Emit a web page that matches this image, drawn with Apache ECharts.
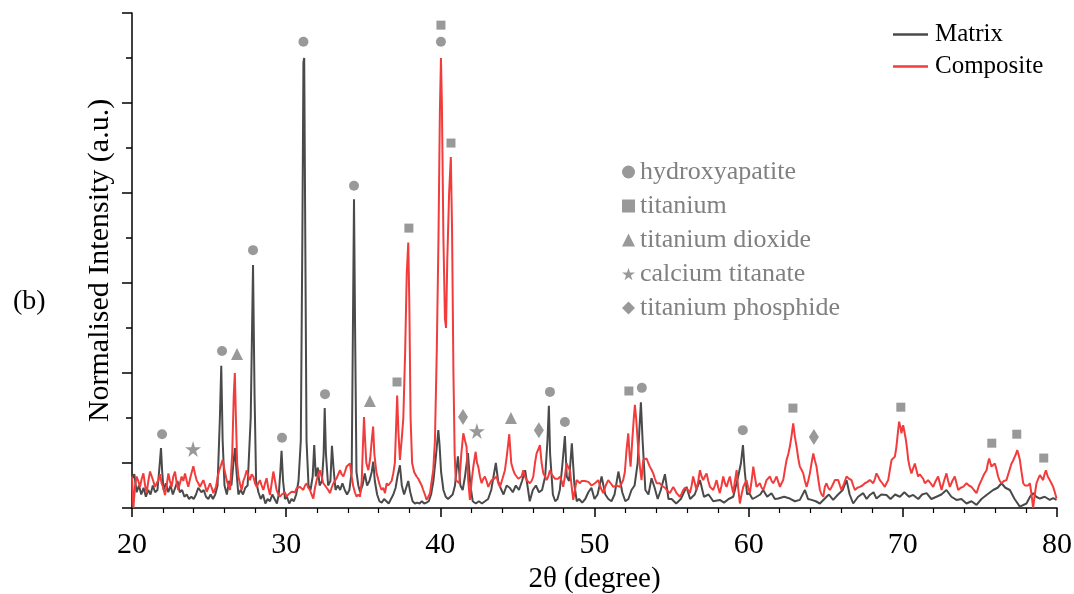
<!DOCTYPE html>
<html>
<head>
<meta charset="utf-8">
<script src="https://cdn.jsdelivr.net/npm/echarts@6/dist/echarts.min.js"></script>
<style>
  html, body { margin: 0; padding: 0; background: #fff; }
  #chart { width: 1074px; height: 594px; }
</style>
</head>
<body>
<div id="chart"></div>
<script>
// 2theta (degree) / normalised intensity
var matrix = [
  [20.0,0.065],[20.15,0.075],[20.3,0.035],[20.45,0.05],[20.6,0.03],[20.75,0.045],[20.9,0.025],[21.05,0.04],[21.2,0.03],[21.35,0.05],[21.5,0.035],[21.65,0.04],[21.78,0.09],[21.88,0.133],[21.96,0.08],[22.05,0.04],[22.2,0.055],[22.35,0.035],[22.5,0.05],[22.65,0.03],[22.8,0.045],[22.95,0.06],[23.1,0.035],[23.25,0.04],[23.4,0.025],[23.55,0.03],[23.7,0.02],[23.85,0.025],[24.0,0.02],[24.15,0.03],[24.3,0.045],[24.5,0.035],[24.65,0.04],[24.8,0.025],[24.95,0.02],[25.1,0.03],[25.25,0.02],[25.4,0.03],[25.55,0.05],[25.7,0.2],[25.79,0.316],[25.88,0.15],[26.0,0.05],[26.15,0.03],[26.3,0.06],[26.45,0.05],[26.58,0.1],[26.68,0.133],[26.78,0.08],[26.9,0.03],[27.05,0.04],[27.2,0.03],[27.35,0.045],[27.5,0.05],[27.7,0.2],[27.85,0.54],[27.95,0.25],[28.05,0.06],[28.2,0.035],[28.35,0.02],[28.5,0.03],[28.65,0.01],[28.8,0.02],[28.95,0.015],[29.1,0.03],[29.25,0.02],[29.4,0.01],[29.52,0.03],[29.62,0.08],[29.7,0.127],[29.8,0.06],[29.92,0.02],[30.05,0.025],[30.2,0.01],[30.35,0.02],[30.5,0.015],[30.65,0.03],[30.8,0.06],[30.95,0.15],[31.05,0.6],[31.12,0.99],[31.17,1.0],[31.24,0.6],[31.32,0.15],[31.45,0.05],[31.58,0.04],[31.72,0.07],[31.82,0.14],[31.92,0.07],[32.05,0.09],[32.17,0.05],[32.32,0.06],[32.43,0.12],[32.5,0.222],[32.58,0.12],[32.72,0.05],[32.87,0.06],[32.97,0.138],[33.07,0.09],[33.2,0.04],[33.35,0.05],[33.5,0.04],[33.65,0.055],[33.8,0.04],[33.95,0.03],[34.1,0.04],[34.25,0.08],[34.33,0.4],[34.4,0.686],[34.47,0.4],[34.56,0.08],[34.68,0.05],
  [34.8,0.035],[34.95,0.05],[35.1,0.077],[35.25,0.05],[35.4,0.06],[35.55,0.08],[35.65,0.103],[35.75,0.06],[35.9,0.03],[36.05,0.015],[36.2,0.012],[36.35,0.02],[36.5,0.015],[36.65,0.01],[36.8,0.02],[36.95,0.03],[37.1,0.045],[37.22,0.07],[37.38,0.095],[37.5,0.05],[37.65,0.03],[37.92,0.06],[38.05,0.035],[38.2,0.015],[38.35,0.01],[38.5,0.012],[38.65,0.01],[38.8,0.015],[38.95,0.01],[39.1,0.012],[39.25,0.015],[39.4,0.03],[39.55,0.06],[39.7,0.11],[39.87,0.173],[39.95,0.14],[40.05,0.08],[40.2,0.04],[40.35,0.025],[40.5,0.02],[40.65,0.025],[40.8,0.03],[40.95,0.05],[41.14,0.115],[41.3,0.05],[41.45,0.04],[41.6,0.07],[41.79,0.122],[41.95,0.05],[42.1,0.015],[42.3,0.01],[42.5,0.015],[42.7,0.01],[42.9,0.015],[43.1,0.02],[43.3,0.04],[43.45,0.07],[43.6,0.1],[43.75,0.06],[43.9,0.045],[44.1,0.03],[44.3,0.05],[44.5,0.045],[44.7,0.035],[44.9,0.05],[45.1,0.04],[45.3,0.06],[45.5,0.084],[45.65,0.05],[45.8,0.015],[46.0,0.04],[46.2,0.05],[46.4,0.035],[46.6,0.04],[46.8,0.07],[46.95,0.15],[47.04,0.227],[47.12,0.12],[47.3,0.03],[47.45,0.015],[47.6,0.02],[47.75,0.04],[47.9,0.09],[48.08,0.16],[48.2,0.07],[48.35,0.06],[48.53,0.144],[48.7,0.05],[48.85,0.015],[49.0,0.02],[49.2,0.012],[49.4,0.02],[49.6,0.035],[49.8,0.045],[50.0,0.02],[50.2,0.03],[50.46,0.07],[50.7,0.03],[50.9,0.02],[51.1,0.015],[51.3,0.03],[51.55,0.081],[51.8,0.035],[52.0,0.015],[52.2,0.02],[52.4,0.04],[52.6,0.05],[52.8,0.1],[52.92,0.18],[53.01,0.235],[53.12,0.15],[53.3,0.04],[53.5,0.03],[53.7,0.066],[53.9,0.045],[54.1,0.02],[54.3,0.04],[54.57,0.075],[54.8,0.02],[55.0,0.02],[55.3,0.01],[55.6,0.02],[55.97,0.047],[56.2,0.02],[56.5,0.03],[56.84,0.062],[57.1,0.025],[57.4,0.03],[57.7,0.015],[58.13,0.018],[58.4,0.012],[58.7,0.02],[59.0,0.025],[59.32,0.07],[59.5,0.1],[59.63,0.14],[59.75,0.08],[59.9,0.03],[60.04,0.033],[60.25,0.02],[60.51,0.025],[60.75,0.03],[60.94,0.04],[61.2,0.025],[61.48,0.033],[61.7,0.02],[61.92,0.021],[62.3,0.025],[62.67,0.021],[63.0,0.015],[63.32,0.018],[63.65,0.04],[63.85,0.02],[64.08,0.018],[64.35,0.015],[64.62,0.01],[64.94,0.021],[65.2,0.03],[65.48,0.018],[65.8,0.03],[66.1,0.04],[66.35,0.062],[66.55,0.03],[66.78,0.01],[67.1,0.025],[67.43,0.033],[67.65,0.02],[67.86,0.029],[68.1,0.035],[68.29,0.021],[68.6,0.03],[68.94,0.029],[69.2,0.02],[69.5,0.03],[69.81,0.025],[70.1,0.035],[70.4,0.025],[70.67,0.029],[71.0,0.02],[71.25,0.03],[71.54,0.033],[71.85,0.02],[72.18,0.025],[72.5,0.03],[72.83,0.04],[73.15,0.025],[73.48,0.018],[73.8,0.02],[74.13,0.01],[74.45,0.015],[74.78,0.007],[75.1,0.02],[75.43,0.029],[75.86,0.04],[76.15,0.045],[76.4,0.055],[76.65,0.045],[76.94,0.04],[77.25,0.02],[77.59,0.003],[78.02,0.01],[78.25,0.025],[78.45,0.033],[78.65,0.025],[78.89,0.021],[79.2,0.025],[79.53,0.018],[79.75,0.022],[79.97,0.018]
];

var composite = [
  [20.0,0.07],[20.09,0.0],[20.2,0.05],[20.3,0.07],[20.41,0.06],[20.52,0.047],[20.63,0.065],[20.74,0.077],[20.85,0.05],[20.95,0.033],[21.06,0.06],[21.17,0.081],[21.28,0.084],[21.38,0.06],[21.49,0.047],[21.6,0.055],[21.71,0.062],[21.82,0.075],[21.92,0.055],[22.03,0.045],[22.14,0.029],[22.25,0.05],[22.36,0.077],[22.46,0.06],[22.57,0.047],[22.68,0.07],[22.79,0.081],[22.9,0.055],[23.0,0.04],[23.11,0.055],[23.22,0.07],[23.33,0.06],[23.44,0.077],[23.55,0.06],[23.65,0.047],[23.8,0.07],[23.98,0.093],[24.09,0.075],[24.19,0.062],[24.3,0.055],[24.41,0.047],[24.52,0.055],[24.63,0.062],[24.74,0.05],[24.84,0.036],[24.95,0.045],[25.06,0.055],[25.17,0.045],[25.28,0.033],[25.36,0.04],[25.45,0.047],[25.56,0.07],[25.66,0.084],[25.77,0.095],[25.88,0.107],[26.0,0.085],[26.14,0.062],[26.25,0.05],[26.36,0.04],[26.5,0.12],[26.6,0.25],[26.67,0.3],[26.74,0.2],[26.82,0.1],[26.9,0.07],[27.0,0.055],[27.11,0.04],[27.22,0.06],[27.33,0.07],[27.44,0.084],[27.55,0.07],[27.65,0.062],[27.76,0.075],[27.87,0.07],[27.98,0.055],[28.09,0.047],[28.2,0.055],[28.3,0.062],[28.41,0.05],[28.52,0.04],[28.63,0.055],[28.73,0.066],[28.84,0.045],[28.95,0.029],[29.06,0.055],[29.17,0.081],[29.28,0.06],[29.38,0.04],[29.49,0.03],[29.6,0.025],[29.71,0.03],[29.82,0.029],[29.92,0.035],[30.03,0.025],[30.14,0.03],[30.25,0.033],[30.35,0.036],[30.46,0.04],[30.57,0.035],[30.68,0.044],[30.79,0.04],[30.9,0.047],[31.0,0.045],[31.11,0.04],[31.22,0.05],[31.33,0.055],[31.43,0.045],[31.54,0.04],[31.65,0.03],[31.76,0.021],[31.87,0.045],[31.98,0.062],[32.08,0.075],[32.19,0.084],[32.3,0.07],[32.41,0.055],[32.52,0.05],[32.63,0.047],[32.73,0.04],[32.84,0.033],[32.95,0.045],[33.06,0.055],[33.16,0.06],[33.27,0.066],[33.38,0.075],[33.49,0.084],[33.6,0.075],[33.71,0.07],[33.81,0.08],[33.92,0.092],[34.03,0.095],[34.14,0.099],[34.25,0.07],[34.36,0.047],[34.46,0.035],[34.57,0.025],[34.68,0.03],[34.79,0.025],[34.9,0.06],[34.98,0.14],[35.05,0.202],[35.12,0.15],[35.2,0.1],[35.33,0.084],[35.45,0.11],[35.55,0.15],[35.64,0.181],[35.72,0.12],[35.85,0.08],[35.98,0.062],[36.08,0.05],[36.19,0.04],[36.3,0.045],[36.41,0.033],[36.52,0.055],[36.62,0.05],[36.73,0.047],[36.84,0.06],[36.95,0.077],[37.05,0.1],[37.13,0.18],[37.2,0.25],[37.28,0.17],[37.38,0.107],[37.49,0.151],[37.6,0.2],[37.72,0.35],[37.82,0.52],[37.92,0.59],[37.99,0.45],[38.07,0.2],[38.17,0.1],[38.3,0.08],[38.46,0.07],[38.57,0.065],[38.68,0.062],[38.79,0.05],[38.89,0.04],[39.0,0.03],[39.11,0.018],[39.22,0.025],[39.33,0.033],[39.44,0.06],[39.54,0.084],[39.65,0.15],[39.77,0.35],[39.88,0.6],[39.97,0.88],[40.04,1.0],[40.1,0.9],[40.2,0.6],[40.3,0.42],[40.37,0.4],[40.45,0.55],[40.57,0.7],[40.68,0.78],[40.76,0.62],[40.85,0.3],[40.93,0.12],[41.0,0.062],[41.12,0.06],[41.23,0.055],[41.36,0.12],[41.49,0.166],[41.6,0.15],[41.7,0.136],[41.81,0.06],[41.92,0.018],[42.03,0.06],[42.14,0.092],[42.29,0.125],[42.38,0.1],[42.46,0.092],[42.57,0.07],[42.68,0.055],[42.79,0.065],[42.89,0.07],[43.0,0.06],[43.11,0.047],[43.22,0.055],[43.33,0.062],[43.49,0.065],[43.65,0.07],[43.76,0.055],[43.87,0.047],[44.03,0.065],[44.19,0.084],[44.33,0.12],[44.47,0.164],[44.6,0.1],[44.73,0.084],[44.84,0.075],[44.95,0.07],[45.06,0.065],[45.16,0.062],[45.27,0.07],[45.38,0.084],[45.49,0.07],[45.6,0.062],[45.7,0.06],[45.81,0.055],[45.92,0.06],[46.03,0.07],[46.14,0.1],[46.24,0.121],[46.35,0.13],[46.46,0.14],[46.57,0.1],[46.68,0.077],[46.79,0.07],[46.89,0.062],[47.0,0.07],[47.11,0.084],[47.22,0.075],[47.33,0.07],[47.43,0.065],[47.54,0.062],[47.65,0.065],[47.76,0.07],[47.87,0.06],[47.97,0.047],[48.08,0.07],[48.19,0.099],[48.3,0.09],[48.41,0.084],[48.51,0.05],[48.62,0.018],[48.73,0.04],[48.84,0.062],[48.95,0.058],[49.06,0.055],[49.16,0.06],[49.27,0.062],[49.38,0.06],[49.49,0.062],[49.6,0.058],[49.7,0.055],[49.81,0.05],[49.92,0.047],[50.03,0.055],[50.13,0.058],[50.24,0.062],[50.4,0.045],[50.57,0.033],[50.73,0.05],[50.89,0.062],[51.05,0.055],[51.22,0.047],[51.43,0.05],[51.65,0.047],[51.76,0.055],[51.86,0.062],[51.97,0.08],[52.08,0.13],[52.19,0.166],[52.27,0.12],[52.34,0.092],[52.45,0.15],[52.55,0.2],[52.62,0.229],[52.7,0.2],[52.84,0.129],[52.95,0.09],[53.05,0.062],[53.16,0.107],[53.27,0.105],[53.38,0.11],[53.49,0.1],[53.59,0.092],[53.7,0.085],[53.81,0.077],[53.92,0.065],[54.03,0.055],[54.14,0.058],[54.24,0.055],[54.35,0.05],[54.46,0.047],[54.57,0.045],[54.68,0.04],[54.78,0.036],[54.89,0.033],[55.0,0.04],[55.11,0.047],[55.22,0.04],[55.32,0.033],[55.43,0.03],[55.54,0.025],[55.65,0.032],[55.76,0.04],[55.86,0.045],[55.97,0.047],[56.08,0.04],[56.19,0.033],[56.3,0.05],[56.4,0.07],[56.51,0.055],[56.62,0.04],[56.73,0.06],[56.84,0.084],[56.95,0.07],[57.05,0.062],[57.16,0.07],[57.27,0.077],[57.38,0.06],[57.49,0.047],[57.59,0.044],[57.7,0.04],[57.81,0.05],[57.92,0.062],[58.03,0.045],[58.13,0.033],[58.24,0.05],[58.35,0.07],[58.46,0.055],[58.57,0.047],[58.68,0.06],[58.78,0.07],[58.89,0.05],[59.0,0.033],[59.11,0.06],[59.22,0.084],[59.32,0.045],[59.43,0.01],[59.54,0.03],[59.65,0.047],[59.76,0.055],[59.86,0.062],[59.97,0.045],[60.08,0.033],[60.19,0.06],[60.3,0.092],[60.4,0.07],[60.51,0.047],[60.62,0.05],[60.73,0.055],[60.84,0.045],[60.95,0.04],[61.05,0.05],[61.16,0.062],[61.27,0.065],[61.38,0.07],[61.49,0.06],[61.59,0.055],[61.7,0.062],[61.81,0.07],[61.92,0.058],[62.03,0.047],[62.13,0.055],[62.24,0.062],[62.35,0.085],[62.46,0.107],[62.57,0.12],[62.67,0.136],[62.78,0.16],[62.89,0.188],[63.0,0.158],[63.11,0.136],[63.22,0.11],[63.32,0.092],[63.43,0.085],[63.54,0.077],[63.65,0.06],[63.76,0.047],[63.86,0.06],[63.97,0.077],[64.08,0.1],[64.19,0.121],[64.3,0.105],[64.4,0.092],[64.51,0.065],[64.62,0.04],[64.73,0.03],[64.84,0.025],[64.94,0.047],[65.05,0.055],[65.16,0.045],[65.27,0.04],[65.43,0.05],[65.59,0.062],[65.7,0.058],[65.81,0.062],[65.92,0.05],[66.02,0.04],[66.19,0.055],[66.35,0.07],[66.51,0.065],[66.67,0.062],[66.78,0.05],[66.89,0.04],[67.05,0.045],[67.21,0.047],[67.38,0.05],[67.54,0.055],[67.7,0.058],[67.86,0.062],[67.97,0.058],[68.08,0.055],[68.19,0.065],[68.29,0.077],[68.4,0.07],[68.51,0.062],[68.67,0.055],[68.83,0.047],[68.94,0.055],[69.05,0.062],[69.16,0.085],[69.27,0.107],[69.38,0.11],[69.48,0.114],[69.56,0.13],[69.63,0.151],[69.7,0.175],[69.76,0.192],[69.84,0.18],[69.91,0.166],[69.96,0.175],[70.02,0.184],[70.1,0.17],[70.2,0.151],[70.28,0.13],[70.35,0.107],[70.45,0.09],[70.56,0.077],[70.67,0.088],[70.78,0.099],[70.88,0.085],[70.99,0.07],[71.1,0.075],[71.21,0.077],[71.32,0.065],[71.43,0.055],[71.53,0.058],[71.64,0.062],[71.8,0.055],[71.97,0.047],[72.13,0.06],[72.29,0.07],[72.4,0.055],[72.51,0.04],[72.67,0.06],[72.83,0.077],[72.94,0.06],[73.05,0.047],[73.21,0.06],[73.37,0.07],[73.48,0.055],[73.59,0.04],[73.75,0.045],[73.91,0.047],[74.02,0.05],[74.13,0.055],[74.29,0.05],[74.45,0.047],[74.61,0.04],[74.78,0.033],[74.94,0.05],[75.1,0.062],[75.27,0.075],[75.43,0.084],[75.52,0.1],[75.6,0.11],[75.68,0.1],[75.75,0.092],[75.86,0.095],[75.97,0.099],[76.08,0.085],[76.18,0.07],[76.29,0.06],[76.4,0.055],[76.56,0.06],[76.72,0.062],[76.88,0.08],[77.05,0.099],[77.15,0.105],[77.26,0.114],[77.34,0.12],[77.42,0.129],[77.5,0.12],[77.59,0.107],[77.7,0.08],[77.81,0.055],[77.92,0.05],[78.02,0.047],[78.13,0.05],[78.24,0.055],[78.35,0.03],[78.45,0.0],[78.56,0.03],[78.67,0.055],[78.78,0.065],[78.89,0.073],[79.0,0.07],[79.1,0.062],[79.19,0.075],[79.28,0.084],[79.4,0.07],[79.53,0.062],[79.64,0.055],[79.75,0.047],[79.86,0.035],[79.97,0.021]
];

// phase markers above the peaks
var hydroxyapatite = [[21.95,0.164],[25.84,0.349],[27.85,0.573],[29.73,0.156],[31.12,1.036],[32.52,0.253],[34.4,0.716],[40.04,1.036],[47.11,0.258],[48.08,0.191],[53.07,0.267],[59.62,0.173]];
var titanium = [[37.19,0.28],[37.96,0.622],[40.04,1.073],[40.69,0.811],[52.23,0.26],[62.87,0.222],[69.87,0.224],[75.77,0.144],[77.39,0.164],[79.14,0.111]];
var titaniumDioxide = [[26.81,0.342],[35.43,0.238],[44.58,0.2]];
var calciumTitanate = [[23.96,0.131],[42.37,0.171]];
var titaniumPhosphide = [[41.47,0.202],[46.39,0.173],[64.23,0.158]];

var serif = 'Liberation Serif';
var grey = '#808080';
var star = 'path://M50,0 L61,35 L98,35 L68,57 L79,91 L50,70 L21,91 L32,57 L2,35 L39,35 Z';

var chart = echarts.init(document.getElementById('chart'));

function marker(name, data, symbol, size){
	return {
		name: name,
		type: 'scatter',
		data: data,
		symbol: symbol,
		symbolSize: size,
		itemStyle: { color: grey },
		z: 5,
		silent: true
	};
}

var option = {
	animation: false,
	backgroundColor: '#fff',
	title: {
		text: '(b)',
		left: 8,
		top: 283,
		textStyle: { fontFamily: serif, fontSize: 28, fontWeight: 'normal', color: '#000' }
	},
	grid: { left: 132, right: 17, top: 13, bottom: 86, containLabel: false, outerBoundsMode: 'none' },
	legend: [
		{
			data: ['Matrix', 'Composite'],
			orient: 'vertical',
			left: 888,
			top: 17,
			icon: 'rect',
			itemWidth: 35,
			itemHeight: 2.5,
			itemGap: 7,
			textStyle: { fontFamily: serif, fontSize: 25, color: '#000', lineHeight: 24, padding: [0, 0, 0, 2] }
		},
		{
			data: [
				'hydroxyapatite',
				'titanium',
				'titanium dioxide',
				{ name: 'calcium titanate', icon: star },
				'titanium phosphide'
			],
			orient: 'vertical',
			left: 617,
			top: 154,
			itemWidth: 13,
			itemHeight: 13,
			itemGap: 8,
			textStyle: { fontFamily: serif, fontSize: 26, color: grey, lineHeight: 23, padding: [0, 0, 0, 0] }
		}
	],
	xAxis: {
		type: 'value',
		min: 20,
		max: 80,
		interval: 10,
		name: '2θ (degree)',
		nameLocation: 'middle',
		nameGap: 52,
		nameTextStyle: { fontFamily: serif, fontSize: 29, color: '#000' },
		axisLine: { lineStyle: { color: '#000', width: 1.5 } },
		axisTick: { length: 9, lineStyle: { color: '#000', width: 1.5 } },
		minorTick: { show: true, splitNumber: 5, length: 5, lineStyle: { color: '#000', width: 1.2 } },
		axisLabel: { fontFamily: serif, fontSize: 30, color: '#000', margin: 22 },
		splitLine: { show: false }
	},
	yAxis: [
		{
			type: 'value',
			min: 0,
			max: 1.1,
			interval: 0.1,
			name: 'Normalised Intensity (a.u.)',
			nameLocation: 'middle',
			nameGap: 17,
			nameTextStyle: { fontFamily: serif, fontSize: 30, color: '#000' },
			axisLine: { show: true, lineStyle: { color: '#000', width: 1.5 } },
			axisTick: { show: true, length: 6, lineStyle: { color: '#000', width: 1.5 } },
			axisLabel: { show: false },
			splitLine: { show: false }
		},
		{
			// long ticks on the odd tenths, drawn by an inverted twin axis
			type: 'value',
			position: 'left',
			inverse: true,
			min: 0,
			max: 1.1,
			interval: 0.2,
			axisLine: { show: false },
			axisTick: { show: true, length: 10, lineStyle: { color: '#000', width: 1.5 } },
			axisLabel: { show: false },
			splitLine: { show: false }
		}
	],
	series: [
		{
			name: 'Matrix',
			type: 'line',
			data: matrix,
			symbol: 'none',
			color: '#4a4a4a',
			lineStyle: { width: 2, color: '#4a4a4a' },
			z: 2,
			silent: true
		},
		{
			name: 'Composite',
			type: 'line',
			data: composite,
			symbol: 'none',
			color: '#f23c3c',
			lineStyle: { width: 2, color: '#f23c3c' },
			z: 3,
			silent: true
		},
		marker('hydroxyapatite', hydroxyapatite, 'circle', 10),
		marker('titanium', titanium, 'rect', 9),
		marker('titanium dioxide', titaniumDioxide, 'triangle', 12),
		marker('calcium titanate', calciumTitanate, star, 16),
		marker('titanium phosphide', titaniumPhosphide, 'diamond', [10, 16])
	]
};

chart.setOption(option);
window.addEventListener('resize', function(){
	chart.resize();
});
</script>
</body>
</html>
